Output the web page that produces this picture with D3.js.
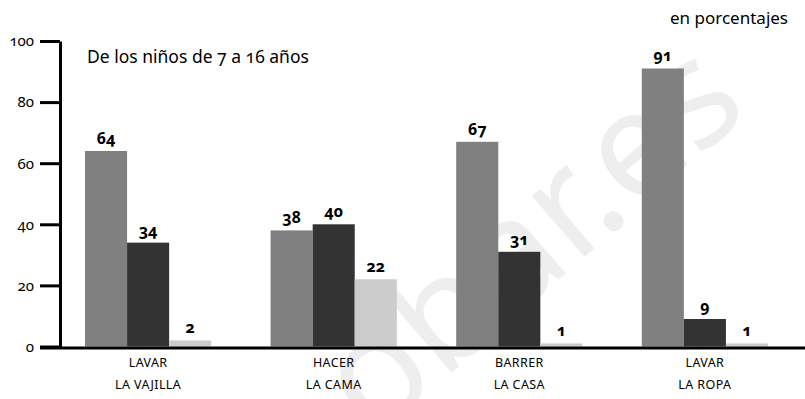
<!DOCTYPE html>
<html>
<head>
<meta charset="utf-8">
<script src="https://cdn.jsdelivr.net/npm/d3@7"></script>
<style>
  html, body { margin: 0; padding: 0; background: #fff; }
  svg { display: block; }
  text { font-family: "Noto Sans", "Lato", sans-serif; font-feature-settings: "onum" 1; }
</style>
</head>
<body>
<svg id="chart" width="805" height="399"></svg>
<script>
// Tareas domésticas de los niños de 7 a 16 años (en porcentajes)
const categoryTop = ["LAVAR", "HACER", "BARRER", "LAVAR"];
const categoryBottom = ["LA VAJILLA", "LA CAMA", "LA CASA", "LA ROPA"];
const seriesA = [64, 38, 67, 91];
const seriesB = [34, 40, 31, 9];
const seriesC = [2, 22, 1, 1];
const seriesColors = ["#808080", "#333333", "#cccccc"];
const yTicks = [0, 20, 40, 60, 80, 100];

const svg = d3.select("#chart");
const categories = categoryTop.map((t, i) => t + " " + categoryBottom[i]);
const seriesKeys = ["a", "b", "c"];
const seriesValues = [seriesA, seriesB, seriesC];

const x0 = d3.scaleBand().domain(categories).range([85, 768]).paddingInner(0.32).paddingOuter(0);
const x1 = d3.scaleBand().domain(seriesKeys).range([0, x0.bandwidth()]).padding(0);
const y = d3.scaleLinear().domain([0, 100]).range([346.5, 41]);

// faint diagonal site mark, split at the dot
const mark = svg.append("g")
  .attr("transform", "translate(634,214) rotate(-41)")
  .style("font-family", "Lato, sans-serif")
  .style("font-size", "150px")
  .style("font-feature-settings", "normal")
  .attr("fill", "#000")
  .attr("fill-opacity", 0.065);
mark.append("text").attr("text-anchor", "end").text("obar.");
mark.append("text").attr("text-anchor", "start").text("es");

// bars
const groups = svg.append("g").selectAll("g")
  .data(categories)
  .join("g")
  .attr("transform", d => `translate(${x0(d)},0)`);

groups.selectAll("rect")
  .data((d, i) => seriesKeys.map((k, s) => ({ key: k, value: seriesValues[s][i], s })))
  .join("rect")
  .attr("x", d => x1(d.key))
  .attr("width", x1.bandwidth())
  .attr("y", d => y(d.value))
  .attr("height", d => y(0) - y(d.value))
  .attr("fill", d => seriesColors[d.s]);

groups.selectAll("text.val")
  .data((d, i) => seriesKeys.map((k, s) => ({ key: k, value: seriesValues[s][i], s })))
  .join("text")
  .attr("class", "val")
  .attr("x", d => x1(d.key) + x1.bandwidth() / 2)
  .attr("y", d => y(d.value) - 7)
  .attr("text-anchor", "middle")
  .style("font-size", "16px")
  .style("font-weight", "bold")
  .attr("fill", "#000")
  .text(d => d.value);

// y axis
const yAxis = d3.axisLeft(y).tickValues(yTicks).tickSize(20).tickSizeOuter(0).tickPadding(6);
const gy = svg.append("g").attr("transform", "translate(60,0)").call(yAxis);
gy.select(".domain").attr("stroke", "#000").attr("stroke-width", 3);
gy.selectAll(".tick line").attr("stroke", "#000").attr("stroke-width", 3);
gy.selectAll(".tick text")
  .style("font-size", "15px")
  .attr("fill", "#000")
  .style("font-family", "\"Noto Sans\", sans-serif");

// x baseline
svg.append("line")
  .attr("x1", 40).attr("x2", 805)
  .attr("y1", y(0) + 1.5).attr("y2", y(0) + 1.5)
  .attr("stroke", "#000").attr("stroke-width", 3);

// category labels
const cat = svg.append("g").selectAll("text")
  .data(categories)
  .join("text")
  .attr("text-anchor", "middle")
  .style("font-size", "12.5px")
  .style("letter-spacing", "0.4px")
  .attr("fill", "#000");
cat.append("tspan")
  .attr("x", d => x0(d) + x0.bandwidth() / 2)
  .attr("y", 367)
  .text((d, i) => categoryTop[i]);
cat.append("tspan")
  .attr("x", d => x0(d) + x0.bandwidth() / 2)
  .attr("y", 389)
  .text((d, i) => categoryBottom[i]);

// titles
svg.append("text")
  .attr("x", 87).attr("y", 63)
  .style("font-size", "17.5px")
  .attr("fill", "#000")
  .text("De los niños de 7 a 16 años");

svg.append("text")
  .attr("x", 788).attr("y", 24)
  .attr("text-anchor", "end")
  .style("font-size", "17px")
  .attr("fill", "#000")
  .text("en porcentajes");
</script>
</body>
</html>
